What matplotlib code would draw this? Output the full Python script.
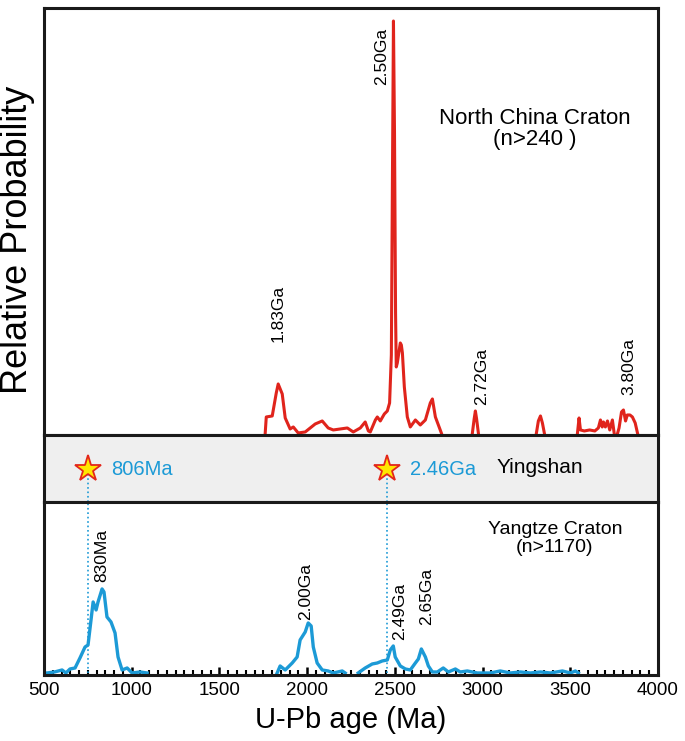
import matplotlib
matplotlib.use('Agg')
import matplotlib.pyplot as plt
import numpy as np

plt.rcParams['font.family'] = ['Liberation Sans', 'DejaVu Sans']

# North China Craton (red) - age (Ma) and relative probability, segments split by gaps
ncc_age = [1761, 1767, 1801, 1824, 1835, 1858, 1875, 1903, 1921, 1949, 1989, 2046, 2086,
           2120, 2149, 2189, 2229, 2263, 2303, 2331, 2349, 2360, 2389, 2400, 2417, 2440,
           2457, 2470, 2480, 2486, 2492, 2498, 2504, 2508, 2514, 2531, 2537, 2543, 2554,
           2571, 2588, 2617, 2645, 2674, 2702, 2714, 2731, 2765, np.nan,
           2942, 2952, 2959, 2966, 2976, np.nan,
           3307, 3318, 3330, 3341, 3352, np.nan,
           3541, 3550, 3558, 3580, 3610, 3640, 3660, 3672, 3682, 3689, 3700, 3712, 3725,
           3740, 3750, np.nan,
           3770, 3778, 3792, 3803, 3815, 3825, 3840, 3854, 3870, 3883]
ncc_prob = [0, 16, 17, 40, 49, 39, 15, 4, 6, 0, 1, 9, 12,
            5, 3, 4, 5, 1, 5, 11, 2, 1, 13, 16, 12, 19,
            22, 30, 78, 250, 412, 300, 120, 66, 70, 90, 88, 80, 46,
            16, 6, 13, 8, 13, 30, 34, 16, 0, np.nan,
            0, 14, 22, 14, 0, np.nan,
            0, 12, 17, 10, 0, np.nan,
            0, 15, 3, 2, 3, 2, 5, 13, 6, 11, 6, 12, 3,
            13, 0, np.nan,
            0, 5, 21, 23, 12, 18, 18, 16, 10, 0]

# Yangtze Craton (blue)
yz_age = [500, 517, 560, 603, 625, 648, 677, 705, 734, 751, 768, 780, 797, 808, 831, 842,
          859, 882, 905, 922, 945, 974, 1002, 1048, 1088, np.nan,
          1829, 1846, 1875, 1915, 1943, 1960, 1989, 2006, 2023, 2035, 2057, 2086, 2120,
          2149, 2200, 2217, np.nan,
          2291, 2331, 2371, 2400, 2428, 2457, 2474, 2491, 2502, 2531, 2560, 2588, 2617,
          2634, 2651, 2674, 2691, 2714, 2742, 2776, 2805, 2845, 2873, 2913, 2970, 3044,
          3101, 3158, 3216, 3273, 3330, 3387, 3455, 3501, 3529, 3546]
yz_prob = [0, 0, 1, 3, 0, 4, 5, 15, 26, 28, 53, 71, 63, 71, 84, 81,
           56, 51, 40, 16, 3, 5, 0, 1, 0, np.nan,
           0, 7, 3, 10, 16, 33, 41, 50, 47, 26, 10, 3, 2,
           0, 2, 0, np.nan,
           0, 5, 9, 10, 12, 13, 23, 27, 16, 7, 4, 3, 10,
           14, 24, 16, 7, 1, 1, 5, 1, 4, 1, 2, 0, 0,
           2, 0, 1, 0, 1, 0, 2, 0, 2, 0]

# peak labels: (text, age, height)
ncc_labels = [('1.83Ga', 1835, 91), ('2.50Ga', 2423, 348), ('2.72Ga', 2993, 28), ('3.80Ga', 3832, 38)]
yz_labels = [('830Ma', 831, 91), ('2.00Ga', 1989, 53), ('2.49Ga', 2525, 33), ('2.65Ga', 2679, 48)]

# Yingshan ages
ys_age = [750, 2457]
ys_text = ['806Ma', '2.46Ga']

red = '#E0241C'
blue = '#1C9AD6'
lw_frame = 2.2

fig = plt.figure(figsize=(6.85, 7.41), dpi=100)
L, W = 44 / 685, 614 / 685
ax1 = fig.add_axes([L, 0.4130, W, 0.5762])
ax2 = fig.add_axes([L, 0.3225, W, 0.0904])
ax3 = fig.add_axes([L, 0.0891, W, 0.2335])

for ax in (ax1, ax2, ax3):
    ax.set_xlim(500, 4000)
    for s in ax.spines.values():
        s.set_linewidth(lw_frame)
        s.set_color('#1a1a1a')

# Top panel
ax1.plot(ncc_age, ncc_prob, color=red, lw=2.2, solid_joinstyle='round')
ax1.set_ylim(-2, 425)
ax1.set_xticks([])
ax1.set_yticks([])
for t, x, y in ncc_labels:
    ax1.text(x, y, t, rotation=90, ha='center', va='bottom', fontsize=12.5)
ax1.text(0.80, 0.716, 'North China Craton\n(n>240 )', transform=ax1.transAxes,
         ha='center', va='center', fontsize=16, linespacing=1.0)

# Middle band
ax2.set_facecolor('#EFEFEF')
ax2.set_ylim(0, 1)
ax2.set_xticks([])
ax2.set_yticks([])
for x, t in zip(ys_age, ys_text):
    ax2.plot([x, x], [0, 0.5], color=blue, lw=1.2, ls=':')
    ax2.plot(x, 0.5, marker='*', ms=20, mfc='#FFE600', mec='#E3261B', mew=1.3, zorder=5)
    ax2.text(x + 130, 0.48, t, color=blue, ha='left', va='center', fontsize=14.5)
ax2.text(3080, 0.52, 'Yingshan', ha='left', va='center', fontsize=15)

# Bottom panel
ax3.plot(yz_age, yz_prob, color=blue, lw=2.4, solid_joinstyle='round')
ax3.set_ylim(-2, 171)
for x in ys_age:
    ax3.plot([x, x], [0, 171], color=blue, lw=1.2, ls=':')
ax3.set_yticks([])
ax3.set_xticks(np.arange(500, 4001, 500))
ax3.set_xticks(np.arange(500, 4001, 50), minor=True)
ax3.tick_params(axis='x', which='major', direction='in', length=6, width=1.8,
                labelsize=13.5, pad=5)
ax3.tick_params(axis='x', which='minor', direction='in', length=3.5, width=1.5)
for t, x, y in yz_labels:
    ax3.text(x, y, t, rotation=90, ha='center', va='bottom', fontsize=12.5)
ax3.text(0.832, 0.79, 'Yangtze Craton\n(n>1170)', transform=ax3.transAxes,
         ha='center', va='center', fontsize=14, linespacing=1.05)
ax3.set_xlabel('U-Pb age (Ma)', fontsize=21, labelpad=5)

fig.text(18 / 685, 1 - 240 / 741, 'Relative Probability', rotation=90,
         ha='center', va='center', fontsize=26)

fig.savefig('out.png', dpi=100)
